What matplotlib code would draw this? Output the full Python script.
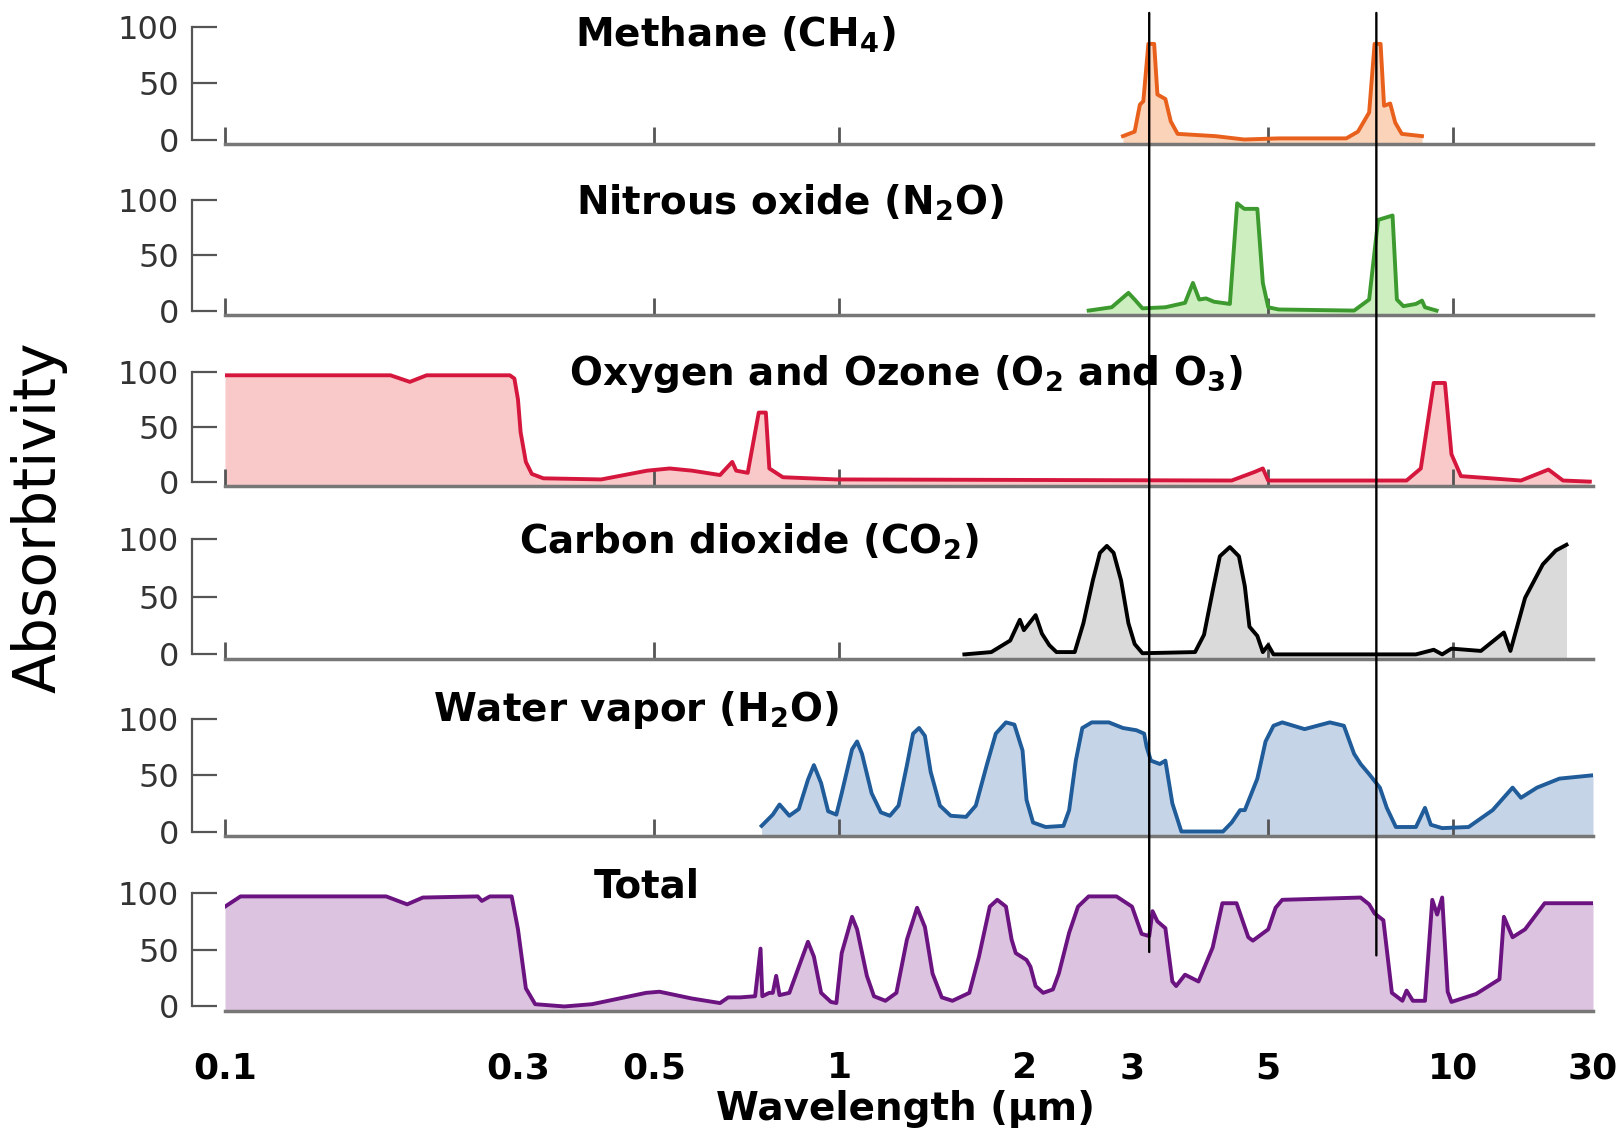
import numpy as np
import matplotlib
matplotlib.use("Agg")
import matplotlib.pyplot as plt
from matplotlib.ticker import FixedLocator, NullFormatter, NullLocator
from matplotlib.patches import ConnectionPatch

plt.rcParams['mathtext.default'] = 'regular'

# (wavelength um, absorbtivity %)
ch4 = [(2.90, 3), (3.03, 7), (3.09, 31), (3.13, 34), (3.19, 85), (3.26, 85), (3.30, 40), (3.40, 36),
       (3.47, 16), (3.56, 5), (4.1, 3), (4.57, 0), (5.2, 1), (6.7, 1), (7.0, 7), (7.3, 24), (7.45, 85),
       (7.62, 85), (7.72, 30), (7.9, 32), (8.05, 15), (8.25, 5), (8.9, 3)]

n2o = [(2.55, 0), (2.78, 3), (2.96, 16), (3.03, 10), (3.12, 2), (3.4, 3), (3.66, 7), (3.77, 25), (3.86, 10),
       (3.96, 11), (4.08, 8), (4.33, 6), (4.45, 97), (4.57, 92), (4.8, 92), (4.9, 25), (5.0, 3), (5.2, 1),
       (6.9, 0), (7.3, 10), (7.55, 82), (7.97, 86), (8.1, 10), (8.3, 4), (8.7, 6), (8.9, 9), (9.0, 3), (9.4, 0)]

o2o3 = [(0.1, 97), (0.186, 97), (0.2, 91), (0.213, 97), (0.291, 97), (0.296, 94), (0.300, 75), (0.303, 45),
        (0.309, 18), (0.316, 7), (0.33, 3), (0.41, 2), (0.487, 10), (0.53, 12), (0.576, 10), (0.64, 6),
        (0.67, 18), (0.68, 10), (0.71, 8), (0.74, 63), (0.76, 63), (0.77, 12), (0.81, 4), (0.99, 2),
        (4.36, 1), (4.76, 9), (4.9, 12), (5.0, 1), (8.4, 1), (8.86, 12), (9.3, 90), (9.7, 90), (9.94, 25),
        (10.3, 5), (12.9, 1), (14.3, 11), (15.1, 1), (16.7, 0)]

co2 = [(1.6, 0), (1.77, 2), (1.9, 12), (1.97, 30), (2.0, 21), (2.09, 34), (2.14, 18), (2.2, 8), (2.26, 2),
       (2.42, 2), (2.5, 27), (2.59, 64), (2.66, 88), (2.73, 94), (2.8, 88), (2.88, 64), (2.96, 27), (3.03, 9),
       (3.12, 1), (3.8, 2), (3.93, 17), (4.06, 55), (4.17, 85), (4.33, 93), (4.48, 85), (4.58, 59), (4.66, 24),
       (4.8, 16), (4.9, 2), (5.0, 8), (5.1, 0), (8.7, 0), (9.3, 4), (9.6, 0), (9.94, 5), (11.1, 3), (12.1, 19),
       (12.4, 3), (13.1, 49), (14.0, 78), (14.7, 90), (15.3, 95)]

h2o = [(0.748, 5), (0.78, 15), (0.80, 24), (0.83, 14), (0.86, 20), (0.89, 46), (0.91, 59), (0.935, 43),
       (0.96, 18), (0.99, 15), (1.01, 34), (1.05, 73), (1.07, 80), (1.09, 69), (1.13, 34), (1.17, 17),
       (1.21, 14), (1.25, 23), (1.29, 59), (1.32, 87), (1.35, 92), (1.38, 85), (1.41, 53), (1.46, 23),
       (1.52, 14), (1.61, 13), (1.67, 23), (1.74, 59), (1.80, 87), (1.87, 97), (1.93, 95), (1.99, 72),
       (2.02, 28), (2.07, 8), (2.17, 4), (2.32, 5), (2.37, 19), (2.43, 63), (2.49, 92), (2.58, 97),
       (2.75, 97), (2.9, 92), (3.05, 90), (3.14, 87), (3.17, 75), (3.22, 63), (3.33, 60), (3.4, 63),
       (3.49, 25), (3.61, 0), (4.22, 0), (4.36, 8), (4.5, 19), (4.58, 19), (4.8, 47), (4.95, 80), (5.1, 94),
       (5.27, 97), (5.73, 91), (6.3, 97), (6.64, 94), (6.9, 69), (7.07, 60), (7.3, 51), (7.6, 39), (7.8, 21),
       (8.07, 4), (8.7, 4), (9.0, 21), (9.2, 6), (9.6, 3), (10.6, 4), (11.6, 19), (12.5, 39), (12.9, 30),
       (13.7, 39), (14.9, 47), (16.9, 50)]

total = [(0.1, 88), (0.106, 97), (0.183, 97), (0.198, 90), (0.21, 96), (0.258, 97), (0.262, 93), (0.27, 97),
         (0.293, 97), (0.30, 68), (0.309, 16), (0.32, 2), (0.357, 0), (0.396, 2), (0.485, 12), (0.51, 13),
         (0.576, 7), (0.64, 3), (0.66, 8), (0.69, 8), (0.73, 9), (0.745, 51), (0.75, 9), (0.77, 12),
         (0.78, 12), (0.79, 27), (0.80, 10), (0.83, 12), (0.86, 35), (0.89, 57), (0.91, 44), (0.935, 12),
         (0.97, 4), (0.99, 3), (1.01, 47), (1.05, 79), (1.07, 68), (1.11, 27), (1.14, 9), (1.19, 5),
         (1.24, 12), (1.29, 59), (1.34, 87), (1.38, 70), (1.42, 29), (1.47, 8), (1.53, 5), (1.63, 12),
         (1.69, 44), (1.76, 88), (1.81, 94), (1.87, 88), (1.91, 59), (1.94, 47), (2.02, 41), (2.05, 35),
         (2.09, 18), (2.15, 12), (2.23, 15), (2.28, 29), (2.37, 65), (2.45, 88), (2.55, 97), (2.83, 97),
         (3.0, 88), (3.11, 64), (3.2, 62), (3.24, 84), (3.3, 75), (3.4, 69), (3.49, 22), (3.54, 18),
         (3.66, 28), (3.85, 22), (4.06, 52), (4.21, 91), (4.44, 91), (4.64, 61), (4.72, 58), (5.0, 68),
         (5.14, 87), (5.27, 94), (7.07, 96), (7.3, 90), (7.45, 82), (7.7, 76), (7.95, 12), (8.27, 5),
         (8.4, 14), (8.6, 5), (9.0, 5), (9.25, 94), (9.42, 81), (9.6, 96), (9.8, 13), (9.94, 4), (10.9, 11),
         (11.9, 24), (12.1, 79), (12.5, 61), (13.1, 68), (14.1, 91), (16.9, 91)]

titles = [r'Methane (CH$_4$)', r'Nitrous oxide (N$_2$O)', r'Oxygen and Ozone (O$_2$ and O$_3$)',
          r'Carbon dioxide (CO$_2$)', r'Water vapor (H$_2$O)', 'Total']
series = [ch4, n2o, o2o3, co2, h2o, total]
line_colors = ['#e8601c', '#3c9a2f', '#d6173d', '#000000', '#1f5c99', '#6b1380']
fill_colors = ['#fad3b8', '#cdefc0', '#f9c9c9', '#dadada', '#c6d4e8', '#dcc3df']

tick_marks = [0.1, 0.5, 1, 5, 10]
xlabels = ['0.1', '0.3', '0.5', '1', '2', '3', '5', '10', '30']
xlabel_pos = [0.1, 0.3, 0.5, 1, 2, 3, 5, 10, 16.9]

W, H = 1622, 1133
panel_px = [(27, 144), (200, 315), (372, 486), (539, 659), (719, 836), (893, 1011)]
title_pos = [(0.679, 82.6), (0.832, 87), (1.285, 88), (0.713, 87), (0.467, 98), (0.486, 96)]

fig = plt.figure(figsize=(W / 100, H / 100), dpi=100)
axes = []
for i, (top, bot) in enumerate(panel_px):
    ax = fig.add_axes([225 / W, 1 - bot / H, 1368 / W, (bot - top) / H])
    axes.append(ax)
    d = np.array(series[i], dtype=float)
    ax.set_xscale('log')
    ax.set_xlim(0.1, 16.9)
    ax.set_ylim(-4, 100)
    ax.fill_between(d[:, 0], d[:, 1], -4, color=fill_colors[i], lw=0)
    ax.plot(d[:, 0], d[:, 1], color=line_colors[i], lw=2.8, solid_joinstyle='round')

    for s in ['top', 'right']:
        ax.spines[s].set_visible(False)
    ax.spines['left'].set_position(('outward', 24))
    ax.spines['left'].set_bounds(0, 100)
    ax.spines['left'].set_color('#555555')
    ax.spines['left'].set_linewidth(1.6)
    ax.spines['bottom'].set_color('#777777')
    ax.spines['bottom'].set_linewidth(2.5)

    ax.set_yticks([0, 50, 100])
    ax.set_yticklabels(['0', '50', '100'])
    ax.tick_params(axis='y', direction='in', length=18, width=1.6, color='#555555',
                   labelsize=23, labelcolor='#333333', pad=9)

    ax.xaxis.set_minor_locator(FixedLocator(tick_marks))
    ax.xaxis.set_minor_formatter(NullFormatter())
    ax.tick_params(axis='x', which='minor', direction='in', length=12, width=2, color='#555555')
    if i == len(panel_px) - 1:
        ax.set_xticks(xlabel_pos)
        ax.set_xticklabels(xlabels)
        ax.tick_params(axis='x', which='major', length=0, pad=29, labelsize=26)
        for t in ax.get_xticklabels():
            t.set_fontweight('bold')
    else:
        ax.xaxis.set_major_locator(NullLocator())

    ax.text(title_pos[i][0], title_pos[i][1], titles[i], ha='center', va='baseline',
            fontsize=28, fontweight='bold', clip_on=False)

# the two marker lines through the methane bands
for xv, ybot in [(3.2, 48), (7.5, 45)]:
    con = ConnectionPatch(xyA=(xv, 112.5), coordsA=axes[0].transData,
                          xyB=(xv, ybot), coordsB=axes[-1].transData,
                          color='black', lw=1.7, zorder=10)
    fig.add_artist(con)

fig.text(905 / W, 1 - 1109 / H, 'Wavelength (µm)', ha='center', va='center',
         fontsize=28, fontweight='bold')
fig.text(39 / W, 1 - 517 / H, 'Absorbtivity', ha='center', va='center',
         rotation=90, fontsize=42)

fig.savefig('out.png', dpi=100)
